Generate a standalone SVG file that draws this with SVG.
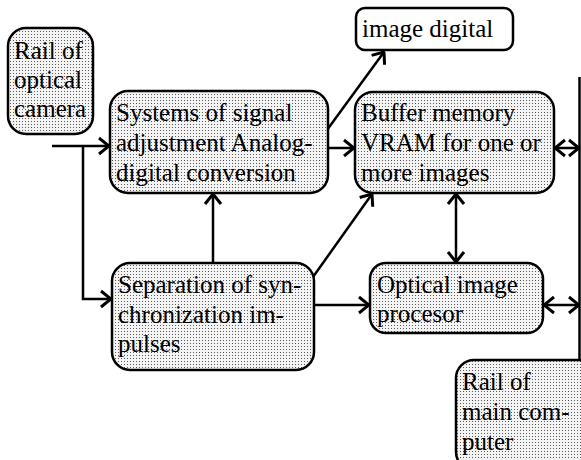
<svg xmlns="http://www.w3.org/2000/svg" width="581" height="460" viewBox="0 0 581 460">
<defs>
<pattern id="dots" width="3" height="3" patternUnits="userSpaceOnUse">
<rect width="3" height="3" fill="#f4f4f4"/>
<rect x="1" y="1" width="1" height="1" fill="#5a5a5a"/>
</pattern>
<marker id="arr" viewBox="0 0 12 20" refX="11" refY="10" markerWidth="12" markerHeight="20" markerUnits="userSpaceOnUse" orient="auto-start-reverse">
<path d="M1,2 L11,10 L1,18" fill="none" stroke="#000" stroke-width="3"/>
</marker>
<style>
.box{fill:url(#dots);stroke:#000;stroke-width:2.5}
.wbox{fill:#fff;stroke:#000;stroke-width:2.5}
.t{font-family:"Liberation Serif","Times New Roman",serif;font-size:25px;fill:#000}
.c{fill:none;stroke:#000;stroke-width:2.5}
.a{marker-end:url(#arr)}
.d{marker-start:url(#arr);marker-end:url(#arr)}
</style>
</defs>
<rect width="581" height="460" fill="#fff"/>
<g id="connectors">
<path class="c a" d="M52,146 H109"/>
<path class="c a" d="M83,146 V299 H111"/>
<path class="c a" d="M213,263 V194"/>
<path class="c a" d="M328,148 H354"/>
<path class="c a" d="M327,130 L384,52"/>
<path class="c a" d="M313,277 L372,194"/>
<path class="c a" d="M314,305 H369"/>
<path class="c d" d="M456,194 V262"/>
<path class="c d" d="M555,148 H579"/>
<path class="c d" d="M544,305 H579"/>
<path class="c" d="M579.5,77 V460"/>
</g>
<g id="rail-camera">
<rect class="box" x="8" y="28" width="85" height="106" rx="18"/>
<text class="t" x="14" y="59">Rail of</text>
<text class="t" x="14" y="88">optical</text>
<text class="t" x="14" y="117">camera</text>
</g>
<g id="systems">
<rect class="box" x="110" y="91" width="218" height="102" rx="18"/>
<text class="t" x="116" y="121">Systems of signal</text>
<text class="t" x="116" y="151">adjustment Analog-</text>
<text class="t" x="116" y="181">digital conversion</text>
</g>
<g id="image-digital">
<rect class="wbox" x="356" y="8" width="157" height="42" rx="9"/>
<text class="t" x="362" y="37">image digital</text>
</g>
<g id="buffer">
<rect class="box" x="355" y="92" width="199" height="101" rx="18"/>
<text class="t" x="361" y="121">Buffer memory</text>
<text class="t" x="361" y="151">VRAM for one or</text>
<text class="t" x="361" y="181">more images</text>
</g>
<g id="separation">
<rect class="box" x="112" y="263" width="202" height="107" rx="18"/>
<text class="t" x="118" y="293">Separation of syn-</text>
<text class="t" x="118" y="323">chronization im-</text>
<text class="t" x="118" y="352">pulses</text>
</g>
<g id="optical-processor">
<rect class="box" x="370" y="263" width="173" height="70" rx="16"/>
<text class="t" x="377" y="293">Optical image</text>
<text class="t" x="377" y="322">procesor</text>
</g>
<g id="rail-computer">
<rect class="box" x="456" y="360" width="140" height="110" rx="18"/>
<text class="t" x="462" y="390">Rail of</text>
<text class="t" x="462" y="420">main com-</text>
<text class="t" x="462" y="450">puter</text>
</g>
</svg>
